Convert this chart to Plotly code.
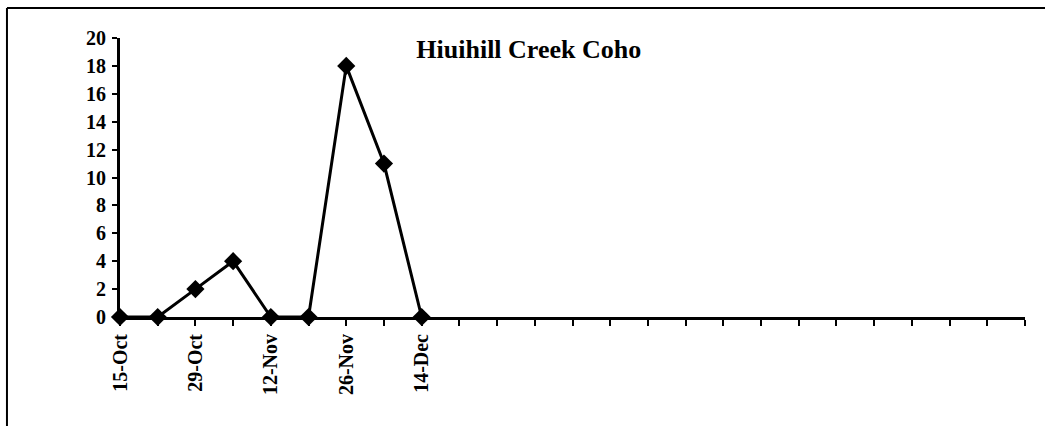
import plotly.graph_objects as go

# weekly counts, Hiuihill Creek coho
dates = ["15-Oct", "22-Oct", "29-Oct", "5-Nov", "12-Nov", "19-Nov", "26-Nov", "3-Dec", "14-Dec"]
counts = [0, 0, 2, 4, 0, 0, 18, 11, 0]
n_slots = 25  # category slots on the axis (rest empty)
y_ticks = list(range(0, 21, 2))

x_pos = list(range(len(dates)))
tick_vals = list(range(n_slots))
tick_text = [dates[i] if (i < len(dates) and i % 2 == 0) else "" for i in tick_vals]

serif = "Liberation Serif, Times New Roman, serif"

fig = go.Figure()
fig.add_trace(go.Scatter(
    x=x_pos, y=counts,
    mode="lines+markers",
    line=dict(color="black", width=3),
    marker=dict(symbol="diamond", size=14, color="black"),
    cliponaxis=False,
    showlegend=False))

fig.update_layout(
    width=1045, height=426,
    margin=dict(l=120, r=20, t=38, b=109),
    paper_bgcolor="white", plot_bgcolor="white",
    font=dict(family=serif, color="black"),
    title=dict(text="<b>Hiuihill Creek Coho</b>", x=0.506, xanchor="center",
               y=0.885, yanchor="middle", font=dict(family=serif, size=26, color="black")),
    xaxis=dict(range=[0, n_slots - 1], tickvals=tick_vals, ticktext=tick_text,
               tickangle=-90, ticks="outside", ticklen=6, tickwidth=2, tickcolor="black",
               showline=True, linewidth=3, linecolor="black", showgrid=False, zeroline=False,
               tickfont=dict(family=serif, size=20, weight="bold")),
    yaxis=dict(range=[0, 20], tickvals=y_ticks, ticks="outside", ticklen=5, tickwidth=2,
               tickcolor="black", showline=True, linewidth=3, linecolor="black",
               showgrid=False, zeroline=False, ticklabelstandoff=2,
               tickfont=dict(family=serif, size=20, weight="bold")),
)

# frame lines of the scanned page (left and top)
fig.add_shape(type="line", xref="paper", yref="paper", x0=-0.1249, x1=-0.1249,
              y0=1.1075, y1=-0.40, line=dict(color="black", width=2))
fig.add_shape(type="line", xref="paper", yref="paper", x0=-0.1249, x1=1.03,
              y0=1.1075, y1=1.1075, line=dict(color="black", width=2))

# drop the default page margin so the figure sits at the window origin
fig.write_html("out.html", config={"displayModeBar": False},
               post_script="document.body.style.margin='0';")
